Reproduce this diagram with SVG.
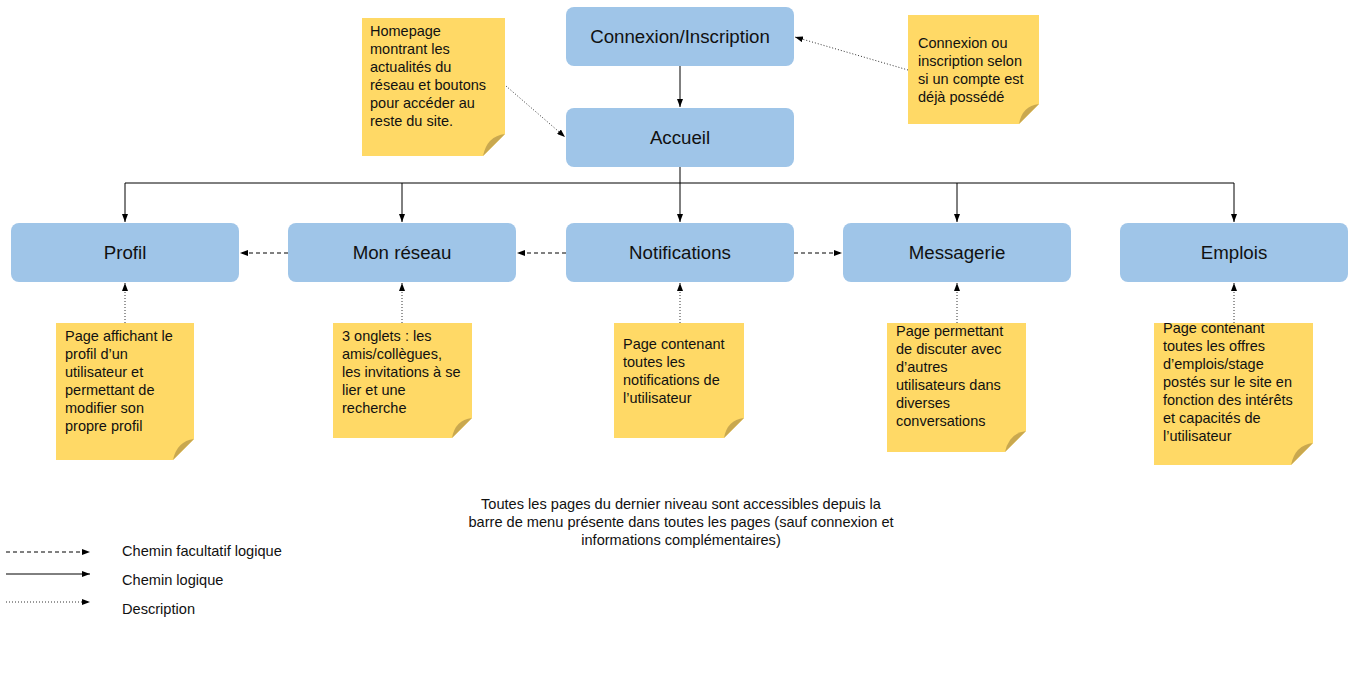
<svg xmlns="http://www.w3.org/2000/svg" width="1370" height="681" viewBox="0 0 1370 681">
<defs>
<style>
.node rect{fill:#9fc5e8;}
.node text{font-family:"Liberation Sans",Arial,sans-serif;font-size:18.7px;fill:#111;text-anchor:middle;}
.note .paper{fill:#ffd966;}
.note .fold{fill:#c9a84f;}
.note text{font-family:"Liberation Sans",Arial,sans-serif;font-size:14.5px;fill:#111;}
.txt{font-family:"Liberation Sans",Arial,sans-serif;font-size:14.6px;fill:#111;}
.solid{stroke:#000;stroke-width:1;fill:none;}
.dash{stroke:#000;stroke-width:1;fill:none;stroke-dasharray:4,3;}
.dot{stroke:#333;stroke-width:1;fill:none;stroke-dasharray:1,2;}
</style>
<marker id="ah" viewBox="0 0 8 6" refX="8" refY="3" markerWidth="8" markerHeight="6" markerUnits="userSpaceOnUse" orient="auto">
<path d="M0,0 L8,3 L0,6 Z" fill="#000"/>
</marker>
</defs>
<rect width="1370" height="681" fill="#fff"/>

<g id="connectors">
<path class="solid" d="M680,66 V107" marker-end="url(#ah)"/>
<path class="solid" d="M680,167 V183"/>
<path class="solid" d="M125,183 H1234"/>
<path class="solid" d="M125,183 V222" marker-end="url(#ah)"/>
<path class="solid" d="M402,183 V222" marker-end="url(#ah)"/>
<path class="solid" d="M680,183 V222" marker-end="url(#ah)"/>
<path class="solid" d="M957,183 V222" marker-end="url(#ah)"/>
<path class="solid" d="M1234,183 V222" marker-end="url(#ah)"/>
<path class="dash" d="M288,253 H240" marker-end="url(#ah)"/>
<path class="dash" d="M566,253 H517" marker-end="url(#ah)"/>
<path class="dash" d="M794,253 H842" marker-end="url(#ah)"/>
<path class="dot" d="M506,86 L565,137" marker-end="url(#ah)"/>
<path class="dot" d="M908,70 L795,37" marker-end="url(#ah)"/>
<path class="dot" d="M125,323 V283" marker-end="url(#ah)"/>
<path class="dot" d="M402,323 V283" marker-end="url(#ah)"/>
<path class="dot" d="M680,323 V283" marker-end="url(#ah)"/>
<path class="dot" d="M957,323 V283" marker-end="url(#ah)"/>
<path class="dot" d="M1234,323 V283" marker-end="url(#ah)"/>
</g>

<g id="n-connexion" class="node"><rect x="566" y="7" width="228" height="59" rx="8"/><text x="680" y="43">Connexion/Inscription</text></g>
<g id="n-accueil" class="node"><rect x="566" y="108" width="228" height="59" rx="8"/><text x="680" y="144">Accueil</text></g>
<g id="n-profil" class="node"><rect x="11" y="223" width="228" height="59" rx="8"/><text x="125" y="259">Profil</text></g>
<g id="n-reseau" class="node"><rect x="288" y="223" width="228" height="59" rx="8"/><text x="402" y="259">Mon réseau</text></g>
<g id="n-notifications" class="node"><rect x="566" y="223" width="228" height="59" rx="8"/><text x="680" y="259">Notifications</text></g>
<g id="n-messagerie" class="node"><rect x="843" y="223" width="228" height="59" rx="8"/><text x="957" y="259">Messagerie</text></g>
<g id="n-emplois" class="node"><rect x="1120" y="223" width="228" height="59" rx="8"/><text x="1234" y="259">Emplois</text></g>

<g id="note-accueil" class="note">
<path class="paper" d="M362,18 H505 V134 L483,156 H362 Z"/>
<path class="fold" d="M505,134 Q487,136 483,156 Z"/>
<text x="370"><tspan x="370" y="36">Homepage</tspan><tspan x="370" y="54">montrant les</tspan><tspan x="370" y="72">actualités du</tspan><tspan x="370" y="90">réseau et boutons</tspan><tspan x="370" y="108">pour accéder au</tspan><tspan x="370" y="126">reste du site.</tspan></text>
</g>
<g id="note-connexion" class="note">
<path class="paper" d="M908,15 H1039 V104 L1019,124 H908 Z"/>
<path class="fold" d="M1039,104 Q1022,106 1019,124 Z"/>
<text><tspan x="918" y="48">Connexion ou</tspan><tspan x="918" y="66">inscription selon</tspan><tspan x="918" y="84">si un compte est</tspan><tspan x="918" y="102">déjà possédé</tspan></text>
</g>
<g id="note-profil" class="note">
<path class="paper" d="M56,323 H194 V439 L173,460 H56 Z"/>
<path class="fold" d="M194,439 Q177,441 173,460 Z"/>
<text><tspan x="65" y="341">Page affichant le</tspan><tspan x="65" y="359">profil d’un</tspan><tspan x="65" y="377">utilisateur et</tspan><tspan x="65" y="395">permettant de</tspan><tspan x="65" y="413">modifier son</tspan><tspan x="65" y="431">propre profil</tspan></text>
</g>
<g id="note-reseau" class="note">
<path class="paper" d="M333,323 H472 V418 L452,438 H333 Z"/>
<path class="fold" d="M472,418 Q455,420 452,438 Z"/>
<text><tspan x="342" y="341">3 onglets : les</tspan><tspan x="342" y="359">amis/collègues,</tspan><tspan x="342" y="377">les invitations à se</tspan><tspan x="342" y="395">lier et une</tspan><tspan x="342" y="413">recherche</tspan></text>
</g>
<g id="note-notifications" class="note">
<path class="paper" d="M614,323 H744 V418 L724,438 H614 Z"/>
<path class="fold" d="M744,418 Q727,420 724,438 Z"/>
<text><tspan x="623" y="349">Page contenant</tspan><tspan x="623" y="367">toutes les</tspan><tspan x="623" y="385">notifications de</tspan><tspan x="623" y="403">l’utilisateur</tspan></text>
</g>
<g id="note-messagerie" class="note">
<path class="paper" d="M887,323 H1026 V431 L1005,452 H887 Z"/>
<path class="fold" d="M1026,431 Q1009,433 1005,452 Z"/>
<text><tspan x="896" y="336">Page permettant</tspan><tspan x="896" y="354">de discuter avec</tspan><tspan x="896" y="372">d’autres</tspan><tspan x="896" y="390">utilisateurs dans</tspan><tspan x="896" y="408">diverses</tspan><tspan x="896" y="426">conversations</tspan></text>
</g>
<g id="note-emplois" class="note">
<path class="paper" d="M1154,323 H1313 V443 L1291,465 H1154 Z"/>
<path class="fold" d="M1313,443 Q1295,445 1291,465 Z"/>
<text><tspan x="1163" y="333">Page contenant</tspan><tspan x="1163" y="351">toutes les offres</tspan><tspan x="1163" y="369">d’emplois/stage</tspan><tspan x="1163" y="387">postés sur le site en</tspan><tspan x="1163" y="405">fonction des intérêts</tspan><tspan x="1163" y="423">et capacités de</tspan><tspan x="1163" y="441">l’utilisateur</tspan></text>
</g>

<g id="footnote">
<text class="txt" text-anchor="middle"><tspan x="681" y="509">Toutes les pages du dernier niveau sont accessibles depuis la</tspan><tspan x="681" y="527">barre de menu présente dans toutes les pages (sauf connexion et</tspan><tspan x="681" y="545">informations complémentaires)</tspan></text>
</g>

<g id="legend">
<path class="dash" d="M6,552 H90" marker-end="url(#ah)"/>
<path class="solid" d="M6,574 H90" marker-end="url(#ah)"/>
<path class="dot" d="M6,602 H90" marker-end="url(#ah)"/>
<text class="txt" x="122" y="556">Chemin facultatif logique</text>
<text class="txt" x="122" y="585">Chemin logique</text>
<text class="txt" x="122" y="614">Description</text>
</g>
</svg>
